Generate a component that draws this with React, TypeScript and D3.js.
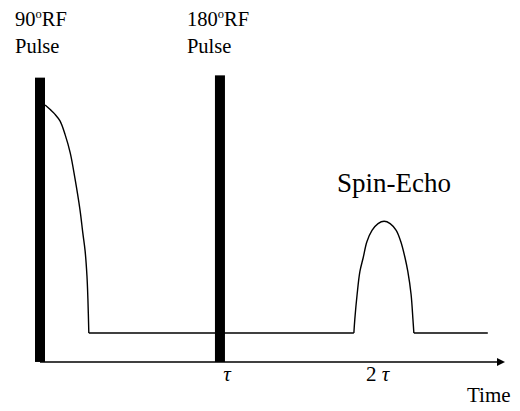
import React from 'react'
import * as d3 from 'd3'

const width = 520
const height = 411

// time in arbitrary units, amplitude relative to the FID start
const fidTime = [1.1, 2.2, 3.2, 4.3, 5.4, 6.5, 7.5, 8.6, 9.2, 9.7, 10.1, 10.3, 10.5]
const fidAmp = [1.0, 0.98, 0.96, 0.93, 0.87, 0.79, 0.68, 0.54, 0.44, 0.36, 0.25, 0.15, 0]
const echoTime = [67.5, 67.7, 68.2, 68.8, 69.5, 70.3, 71.4, 72.7, 74.0, 75.3, 76.6, 77.6, 78.5, 79.1, 79.8, 80.2, 80.4]
const echoAmp = [0, 0.06, 0.17, 0.27, 0.33, 0.4, 0.45, 0.48, 0.49, 0.48, 0.45, 0.4, 0.33, 0.27, 0.17, 0.06, 0]
const baselineStart = [10.5, 80.4]
const baselineEnd = [67.5, 96.3]

const pulseTime = [0, 38.7]
const pulseTop = [1.12, 1.13]
const pulseDeg = ['90', '180']

const tickLabels = ['τ', '2 τ']
const tickTime = [39.4, 70.1]

const axisLevel = -0.127

const x = d3.scaleLinear().domain([0, 100]).range([40, 505])
const y = d3.scaleLinear().domain([0, 1]).range([333, 105])

const curve = d3
  .line<[number, number]>()
  .x(d => x(d[0]))
  .y(d => y(d[1]))
  .curve(d3.curveCatmullRom.alpha(0.5))

const font = '"Liberation Serif", "Times New Roman", serif'

const App = () => {
  const fid = curve(fidTime.map((t, i) => [t, fidAmp[i]]))
  const echo = curve(echoTime.map((t, i) => [t, echoAmp[i]]))
  const axisY = y(axisLevel)
  const tip = x(100)

  return (
    <svg
      width={width}
      height={height}
      style={{ position: 'absolute', left: 0, top: 0, background: 'white' }}
      fontFamily={font}
    >
      {/* time axis with arrow */}
      <line x1={x(0)} x2={tip - 6} y1={axisY} y2={axisY} stroke="black" strokeWidth={1.5} />
      <path d={`M${tip},${axisY} L${tip - 8},${axisY - 4} L${tip - 8},${axisY + 4} Z`} fill="black" />

      {/* RF pulses */}
      {pulseTime.map((t, i) => (
        <g key={i}>
          <rect
            x={x(t) - 5}
            width={10}
            y={y(pulseTop[i])}
            height={axisY - y(pulseTop[i])}
            fill="black"
          />
          <text x={x(t) - 25 + (i ? -8 : 0)} y={26} fontSize={20.5}>
            {pulseDeg[i]}
            <tspan fontSize={12.5} dy={-8}>o</tspan>
            <tspan dy={8}>RF</tspan>
          </text>
          <text x={x(t) - 25 + (i ? -8 : 0)} y={53} fontSize={20.5}>
            Pulse
          </text>
        </g>
      ))}

      {/* signal */}
      <path d={fid} fill="none" stroke="black" strokeWidth={1.4} />
      <path d={echo} fill="none" stroke="black" strokeWidth={1.4} />
      {baselineStart.map((t, i) => (
        <line
          key={i}
          x1={x(t)}
          x2={x(baselineEnd[i])}
          y1={y(0)}
          y2={y(0)}
          stroke="black"
          strokeWidth={1.4}
        />
      ))}

      <text x={337} y={192} fontSize={27}>
        Spin-Echo
      </text>

      {tickLabels.map((l, i) => (
        <text key={l} x={x(tickTime[i])} y={381} fontSize={21}>
          {l.startsWith('2') ? (
            <>
              2 <tspan fontStyle="italic">τ</tspan>
            </>
          ) : (
            <tspan fontStyle="italic">{l}</tspan>
          )}
        </text>
      ))}
      <text x={467} y={402} fontSize={21}>
        Time
      </text>
    </svg>
  )
}

export default App
